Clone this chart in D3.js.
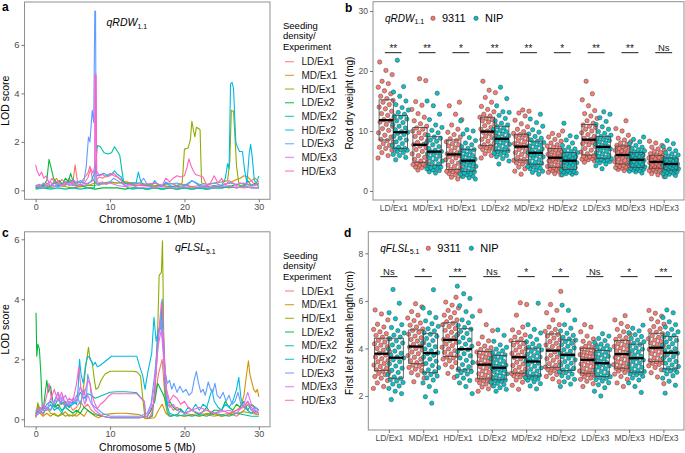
<!DOCTYPE html>
<html><head><meta charset="utf-8">
<script src="https://cdn.jsdelivr.net/npm/d3@7"></script>
<style>body{margin:0;background:#fff;} svg{font-family:"Liberation Sans",Arial,sans-serif;}</style>
</head><body><svg id="c" width="685" height="453"></svg>
<script>
// ---------- categories / ticks ----------
const groups = ["LD/Ex1","MD/Ex1","HD/Ex1","LD/Ex2","MD/Ex2","HD/Ex2","LD/Ex3","MD/Ex3","HD/Ex3"];
const lineColors = ["#F8766D","#D39200","#93AA00","#00BA38","#00C19F","#00B9E3","#619CFF","#DB72FB","#FF61C3"];
const genotypes = ["9311","NIP"];
const genoColors = ["#F8766D","#00BFC4"];
const chrTicks = [0,10,20,30];
const lodTicks = [0,2,4,6];
const rdwTicks = [0,10,20,30];
const flslTicks = [2,4,6,8];
const sigB = ["**","**","*","**","**","*","**","**","Ns"];
const sigD = ["Ns","*","**","Ns","*","*","Ns","*","**"];

// ---------- panel a: LOD on chromosome 1 (Mb, LOD) ----------
const chr1_LD_Ex1 = [[0,0.2],[0.5,0.25],[1,0.15],[1.5,0.3],[2,0.2],[2.5,0.35],[3,0.2],[3.5,0.45],[4,0.3],[4.5,0.5],[5,0.3],[5.3,1.05],[5.6,0.4],[6,0.3],[6.5,0.5],[7,0.7],[7.3,1.0],[7.6,0.5],[8,0.3],[8.5,0.55],[9,0.5],[9.5,0.6],[10,0.7],[10.5,0.6],[11,0.55],[11.5,0.45],[12,0.35],[13,0.3],[14,0.25],[15,0.2],[16,0.3],[17,0.2],[18,0.3],[19,0.2],[20,0.25],[21,0.15],[22,0.2],[23,0.15],[24,0.2],[25,0.15],[26,0.1],[27,0.15],[28,0.1],[29,0.15],[30,0.1]];
const chr1_MD_Ex1 = [[0,0.1],[1,0.2],[2,0.15],[2.8,0.5],[3.2,0.3],[4,0.2],[4.6,0.4],[5,0.2],[6,0.15],[7,0.2],[8,0.3],[9,0.25],[10,0.3],[11,0.3],[12,0.35],[13,0.3],[14,0.3],[15,0.25],[16,0.2],[17,0.2],[18,0.15],[19,0.15],[20,0.2],[21,0.15],[22,0.1],[23,0.1],[24,0.15],[25,0.2],[26,0.3],[27,0.45],[27.5,0.5],[28,0.6],[28.5,0.55],[29,0.4],[29.5,0.5],[30,0.35]];
const chr1_HD_Ex1 = [[0,0.1],[1,0.15],[2,0.1],[3,0.2],[4,0.15],[5,0.1],[6,0.15],[7,0.2],[8,0.2],[8.5,0.25],[9,0.3],[10,0.35],[11,0.3],[12,0.3],[13,0.25],[14,0.2],[15,0.2],[16,0.15],[17,0.2],[18,0.15],[19,0.2],[19.7,0.3],[20,1.7],[20.5,1.75],[20.8,2.1],[21.0,2.85],[21.2,2.5],[21.4,2.2],[21.6,2.6],[21.9,2.55],[22.1,2.5],[22.3,0.3],[23,0.25],[24,0.3],[25,0.35],[25.8,0.4],[26.1,1.2],[26.3,3.3],[26.6,3.25],[27.0,1.0],[27.3,0.3],[28,0.25],[29,0.2],[30,0.25]];
const chr1_LD_Ex2 = [[0,0.1],[0.5,0.15],[1,0.2],[1.5,0.4],[1.8,1.28],[2.1,0.9],[2.4,0.5],[2.8,0.3],[3.2,0.4],[3.6,0.25],[4.0,0.5],[4.4,0.35],[4.7,0.7],[5.0,0.4],[5.5,0.2],[6,0.25],[6.5,0.15],[7,0.1],[8,0.05],[9,0.1],[10,0.1],[11,0.1],[12,0.05],[13,0.1],[14,0.1],[15,0.05],[16,0.1],[17,0.05],[18,0.1],[19,0.05],[20,0.1],[21,0.05],[22,0.1],[23,0.05],[24,0.1],[25,0.1],[26,0.15],[27,0.25],[27.5,0.2],[28,0.15],[28.5,0.4],[29,0.2],[29.5,0.3],[30,0.15]];
const chr1_MD_Ex2 = [[0,0.05],[1,0.1],[2,0.05],[3,0.1],[4,0.05],[5,0.1],[6,0.05],[7,0.1],[7.9,0.1],[8.05,1.0],[8.3,1.85],[8.7,1.8],[9.2,1.55],[9.7,1.5],[10.2,1.55],[10.6,1.8],[11.0,1.6],[11.3,1.45],[11.6,0.8],[11.9,0.2],[12.5,0.1],[13,0.05],[14,0.1],[15,0.05],[16,0.1],[17,0.05],[18,0.1],[19,0.05],[20,0.1],[21,0.05],[22,0.1],[23,0.05],[24,0.1],[25,0.1],[26,0.15],[27,0.1],[28,0.2],[29,0.1],[30,0.1]];
const chr1_HD_Ex2 = [[0,0.2],[0.5,0.15],[1,0.25],[1.5,0.2],[2,0.15],[2.5,0.3],[3,0.2],[3.5,0.25],[4,0.35],[4.5,0.3],[5,0.45],[5.5,0.3],[6,0.4],[6.5,0.3],[7,0.25],[7.5,0.4],[8.0,0.8],[8.3,0.6],[8.7,0.65],[9.2,0.7],[9.7,0.6],[10.3,0.7],[10.6,0.8],[11,0.65],[11.5,0.55],[11.8,0.3],[12.5,0.25],[13,0.3],[13.5,0.3],[13.8,0.75],[14.1,0.4],[14.5,0.2],[15,0.25],[15.5,0.15],[16,0.4],[16.5,0.2],[17,0.15],[17.5,0.3],[18,0.2],[18.5,0.15],[19,0.2],[19.5,0.1],[20,0.2],[20.5,0.25],[21,0.4],[21.5,0.3],[22,0.2],[22.5,0.15],[23,0.2],[23.5,0.1],[24,0.2],[24.5,0.15],[25,0.2],[25.5,0.5],[25.8,1.1],[26.0,0.9],[26.2,4.4],[26.4,4.45],[26.6,4.2],[26.9,2.0],[27.1,1.8],[27.4,1.6],[27.8,1.6],[28.1,0.8],[28.4,0.3],[28.7,1.5],[28.9,1.9],[29.1,1.4],[29.4,0.4],[29.7,0.3],[30,0.6]];
const chr1_LD_Ex3 = [[0,0.15],[0.5,0.2],[1,0.1],[2,0.2],[3,0.15],[4,0.25],[5,0.2],[5.5,0.35],[6,0.3],[6.5,0.4],[6.8,1.0],[7.1,2.2],[7.3,2.0],[7.6,3.3],[7.8,2.8],[7.95,7.4],[8.05,7.4],[8.15,0.3],[8.5,0.2],[9,0.3],[9.5,0.25],[10,0.35],[10.5,0.5],[11,0.4],[11.5,0.3],[12,0.2],[13,0.25],[14,0.3],[14.5,0.5],[15,0.25],[16,0.3],[17,0.2],[17.5,0.35],[18,0.25],[19,0.3],[20,0.2],[21,0.4],[22,0.25],[23,0.2],[24,0.3],[25,0.2],[26,0.3],[27,0.25],[28,0.3],[29,0.2],[30,0.3]];
const chr1_MD_Ex3 = [[0,0.2],[0.5,0.1],[1,0.3],[1.5,0.2],[2,0.35],[2.5,0.15],[3,0.3],[3.5,0.2],[4,0.35],[4.5,0.2],[5,0.3],[5.5,0.15],[6,0.25],[6.5,0.2],[7,0.3],[7.5,0.35],[7.95,0.5],[8.0,4.7],[8.1,4.7],[8.2,0.4],[8.5,0.3],[9,0.35],[9.5,0.25],[10,0.3],[11,0.2],[12,0.15],[13,0.2],[14,0.1],[15,0.15],[16,0.1],[17,0.15],[18,0.1],[19,0.1],[20,0.15],[21,0.1],[22,0.15],[23,0.1],[24,0.1],[25,0.15],[26,0.2],[27,0.1],[28,0.15],[29,0.1],[30,0.1]];
const chr1_HD_Ex3 = [[0,1.05],[0.2,0.8],[0.5,0.6],[0.8,0.75],[1.1,0.5],[1.4,0.6],[1.8,0.3],[2.2,0.5],[2.6,0.3],[3.0,0.4],[3.5,0.2],[4,0.3],[4.5,0.25],[5,0.4],[5.5,0.3],[6,0.2],[6.5,0.3],[7,0.5],[7.4,0.9],[7.7,0.7],[7.95,1.0],[8.0,4.8],[8.1,4.8],[8.2,0.8],[8.6,0.6],[9,0.65],[9.5,0.55],[10,0.6],[10.5,0.7],[11,0.55],[11.5,0.4],[12,0.2],[12.5,0.25],[13,0.2],[14,0.2],[15,0.25],[16,0.3],[17,0.2],[17.5,0.5],[18,0.35],[18.5,0.5],[19,0.6],[19.5,0.55],[20,0.6],[20.3,0.9],[20.6,1.3],[20.9,1.0],[21.2,0.8],[21.5,0.65],[22,0.6],[22.5,0.55],[23,0.2],[23.5,0.3],[24,0.6],[24.5,0.3],[25,0.5],[25.5,0.2],[26,0.4],[26.5,0.3],[27,0.2],[27.5,0.3],[28,0.25],[28.5,0.3],[29,0.4],[29.5,0.2],[30,0.3]];

// ---------- panel c: LOD on chromosome 5 ----------
const chr5_LD_Ex1 = [[0,0.2],[0.5,0.3],[1,0.15],[1.5,0.4],[2,0.3],[2.5,0.5],[3,0.35],[3.5,0.6],[4,0.4],[4.5,0.5],[5,0.3],[5.5,0.4],[6,0.6],[6.5,0.4],[7,0.5],[7.5,0.3],[8,0.2],[9,0.1],[10,0.05],[11,0.05],[12,0.05],[13,0.05],[14,0.05],[15,0.1],[15.5,0.3],[16,0.6],[16.5,1.5],[17,2.0],[17.3,1.0],[17.6,0.4],[18,0.5],[18.5,0.3],[19,0.4],[19.5,0.3],[20,0.2],[21,0.15],[22,0.2],[23,0.15],[24,0.1],[25,0.15],[26,0.2],[27,0.1],[28,0.3],[28.5,0.5],[29,0.3],[29.5,0.2],[30,0.15]];
const chr5_MD_Ex1 = [[0,0.05],[0.3,0.5],[0.6,0.2],[1,0.1],[1.5,0.2],[2,0.1],[2.5,0.2],[3,0.1],[3.5,0.15],[4,0.25],[4.5,0.1],[5,0.15],[5.5,0.1],[6,0.2],[6.5,0.1],[7,0.3],[7.5,0.2],[8,0.1],[8.5,0.05],[9,0.15],[10,0.18],[11,0.2],[12,0.2],[13,0.18],[14,0.15],[14.6,0.05],[15,0.02],[16,0.05],[16.5,0.3],[17,0.5],[17.5,0.2],[18,0.1],[19,0.15],[20,0.1],[21,0.15],[22,0.1],[23,0.15],[24,0.2],[25,0.1],[26,0.15],[27,0.3],[27.5,0.4],[28,0.8],[28.3,1.4],[28.6,1.95],[28.8,1.5],[29,1.3],[29.3,1.0],[29.6,0.9],[29.8,1.0],[30,0.75]];
const chr5_HD_Ex1 = [[0,0.1],[0.3,0.55],[0.6,0.3],[1,0.2],[1.5,0.4],[2,0.2],[2.5,0.15],[3,0.1],[3.5,0.2],[4,0.1],[4.5,0.15],[5,0.1],[5.5,0.2],[6,0.4],[6.5,1.2],[6.8,1.9],[7.1,2.4],[7.3,2.0],[7.6,1.9],[7.9,1.3],[8.1,1.0],[8.4,1.05],[8.8,1.3],[9.3,1.5],[10,1.6],[11,1.6],[12,1.6],[13,1.6],[13.6,1.58],[14.1,1.45],[14.4,0.7],[14.7,0.02],[15.2,0.05],[15.7,0.1],[16.0,1.0],[16.3,2.0],[16.6,4.8],[16.9,4.9],[17.05,5.95],[17.2,3.0],[17.4,0.6],[17.7,0.2],[18,0.1],[19,0.15],[20,0.1],[21,0.15],[22,0.1],[23,0.2],[24,0.15],[25,0.1],[26,0.15],[27,0.2],[28,0.25],[29,0.2],[30,0.15]];
const chr5_LD_Ex2 = [[0.05,3.55],[0.15,2.1],[0.3,2.5],[0.5,2.35],[0.7,1.5],[0.9,0.3],[1.1,0.5],[1.3,0.9],[1.5,1.3],[1.7,0.9],[2.0,1.1],[2.3,0.6],[2.6,0.4],[3,0.5],[3.5,0.3],[4,0.4],[4.5,0.3],[5,0.2],[5.5,0.3],[6,0.2],[6.5,0.4],[7,0.3],[7.5,0.2],[8,0.15],[9,0.1],[10,0.05],[11,0.05],[12,0.05],[13,0.05],[14,0.05],[15,0.1],[15.5,0.3],[16,0.6],[16.4,1.2],[16.8,1.0],[17.2,0.8],[17.6,0.5],[18,0.6],[18.5,0.4],[19,0.3],[19.5,0.35],[20,0.2],[21,0.3],[22,0.15],[23,0.4],[23.5,0.2],[24,0.3],[25,0.3],[25.5,0.6],[26,0.4],[26.5,0.3],[27,0.5],[27.5,0.4],[28,0.6],[28.5,0.3],[29,0.5],[29.5,0.4],[30,0.3]];
const chr5_MD_Ex2 = [[0,0.2],[0.5,0.4],[1,0.3],[1.5,0.5],[2,0.6],[2.5,0.4],[3,0.7],[3.5,0.5],[4,0.6],[4.5,0.4],[5,0.5],[5.5,0.6],[6,0.9],[6.5,0.7],[7,0.85],[7.5,0.8],[8,0.7],[8.5,0.75],[9,0.8],[10,0.9],[11,0.92],[12,0.92],[13,0.9],[13.6,0.88],[14.2,0.7],[14.6,0.6],[14.8,0.1],[15.2,0.05],[15.6,0.1],[16,0.8],[16.3,2.5],[16.6,3.0],[16.9,3.5],[17.1,3.0],[17.3,1.5],[17.6,0.5],[18,0.2],[19,0.1],[20,0.15],[21,0.1],[22,0.15],[23,0.1],[24,0.2],[25,0.15],[26,0.1],[27,0.2],[28,0.15],[29,0.1],[30,0.1]];
const chr5_HD_Ex2 = [[0,0.3],[0.5,0.2],[1,0.4],[1.5,0.3],[2,0.5],[2.5,0.3],[3,0.4],[3.5,0.2],[4,0.5],[4.5,0.4],[5,0.6],[5.5,0.5],[5.7,1.0],[5.9,2.0],[6.1,1.5],[6.4,1.2],[6.7,1.8],[7.0,2.1],[7.3,2.05],[7.7,1.8],[8.0,1.9],[8.3,1.75],[8.7,1.8],[9.2,1.9],[9.7,2.0],[10.2,2.1],[11,2.1],[12,2.1],[13,2.1],[13.6,2.1],[14.0,1.75],[14.4,1.45],[14.7,1.0],[15.1,1.6],[15.6,2.2],[15.9,3.4],[16.2,2.6],[16.5,3.0],[16.8,3.0],[17.0,4.0],[17.2,2.6],[17.5,1.2],[17.8,0.2],[18.2,0.1],[19,0.15],[19.5,0.3],[20,0.2],[20.5,0.4],[21,0.3],[21.5,0.5],[22,0.3],[22.5,0.5],[23,0.4],[23.7,1.0],[24,0.6],[24.5,0.4],[25,0.3],[25.5,0.5],[26,0.4],[26.5,0.6],[27,1.0],[27.3,1.4],[27.6,0.7],[28,0.4],[28.5,0.3],[29,0.2],[29.5,0.3],[30,0.2]];
const chr5_LD_Ex3 = [[0,0.1],[0.5,0.3],[1,0.2],[1.5,0.4],[2,0.3],[2.5,0.6],[3,0.9],[3.3,0.5],[3.6,0.8],[4,0.4],[4.5,0.6],[5,0.5],[5.5,0.8],[6,0.5],[6.5,1.0],[6.8,0.6],[7,1.5],[7.3,1.2],[7.6,0.5],[8,0.4],[8.5,0.3],[9,0.2],[10,0.1],[11,0.1],[12,0.1],[13,0.1],[14,0.1],[15,0.2],[15.5,0.5],[16,1.5],[16.4,2.5],[16.8,3.4],[17.1,2.5],[17.4,1.6],[17.7,1.2],[18,1.3],[18.3,1.0],[18.6,1.2],[19,0.9],[19.4,1.1],[19.8,0.9],[20.2,1.0],[20.6,0.8],[21,0.9],[21.3,1.3],[21.6,1.6],[21.9,1.2],[22.2,0.9],[22.5,1.0],[22.8,0.8],[23.2,1.25],[23.5,1.0],[23.8,0.9],[24.1,1.2],[24.4,0.8],[24.8,0.7],[25.2,0.9],[25.6,0.6],[26,0.8],[26.4,0.5],[26.8,0.6],[27.2,0.9],[27.6,0.5],[28,0.4],[28.5,0.6],[29,0.3],[29.5,0.4],[30,0.3]];
const chr5_MD_Ex3 = [[0,0.1],[0.5,0.2],[1,0.5],[1.5,0.3],[2,0.7],[2.5,0.5],[3,0.9],[3.5,0.6],[4,0.8],[4.5,0.5],[5,0.7],[5.5,0.6],[6,1.1],[6.3,0.8],[6.6,0.5],[7,0.8],[7.5,0.5],[8,0.3],[8.5,0.2],[9,0.1],[10,0.05],[11,0.05],[12,0.05],[13,0.05],[14,0.05],[15,0.1],[15.5,0.4],[16,1.2],[16.5,2.5],[16.9,3.0],[17.2,2.0],[17.5,1.0],[18,0.4],[18.5,0.5],[19,0.3],[20,0.2],[21,0.3],[22,0.2],[23,0.3],[24,0.2],[25,0.25],[26,0.3],[27,0.2],[28,0.5],[28.5,0.9],[29,0.5],[29.5,0.3],[30,0.2]];
const chr5_HD_Ex3 = [[0,0.2],[0.5,0.4],[1,0.3],[1.5,0.8],[1.8,1.2],[2.1,0.7],[2.5,1.0],[3,0.6],[3.5,0.9],[4,0.5],[4.5,0.7],[5,0.6],[5.5,1.2],[5.8,1.75],[6.1,1.0],[6.5,0.8],[7,1.3],[7.3,1.2],[7.6,0.8],[8.0,0.5],[8.3,0.35],[8.7,0.5],[9.2,0.6],[9.7,0.75],[10.2,0.85],[11,0.85],[12,0.85],[13,0.85],[13.6,0.85],[14.2,0.7],[14.6,0.6],[14.8,0.1],[15.2,0.05],[15.6,0.2],[16,0.8],[16.3,2.0],[16.6,3.0],[16.9,3.92],[17.1,3.5],[17.3,2.0],[17.6,1.0],[18,0.6],[18.5,0.8],[19,0.7],[19.5,0.5],[20,0.6],[20.5,0.4],[21,0.3],[22,0.4],[23,0.3],[24,0.2],[25,0.3],[26,0.2],[27,0.3],[28,0.4],[28.5,0.6],[29,0.4],[29.5,0.2],[30,0.3]];

// ---------- panel b: root dry weight (mg), box stats [Q1, median, Q3] ----------
const rdwStats9311 = [[8.5,11.8,15.2],[4.8,7.7,10.6],[3.6,6.1,8.5],[7.55,9.9,12.3],[5.15,7.4,9.45],[3.95,5.55,7.1],[6.0,8.55,11.1],[4.5,6.0,7.5],[3.8,4.85,5.95]];
const rdwStatsNIP  = [[7.1,9.8,12.6],[4.3,6.55,9.05],[3.3,5.05,6.95],[6.7,8.7,10.8],[4.45,6.35,8.3],[3.6,5.05,6.4],[5.45,7.35,9.1],[3.95,5.2,6.4],[3.5,4.5,5.5]];
const rdw9311 = [
[5.5,5.9,6.4,6.8,7.1,7.3,7.6,7.9,8.1,8.4,8.6,9.0,9.3,9.7,10.1,10.4,10.8,11.1,11.5,11.7,11.9,12.2,12.6,12.9,13.3,13.7,14.0,14.4,14.8,15.1,15.4,15.8,16.2,16.7,17.3,17.9,18.3,19.4,20.1,21.5],
[3.5,3.7,3.9,4.0,4.2,4.3,4.4,4.5,4.6,4.8,5.0,5.3,5.6,5.9,6.2,6.6,6.9,7.2,7.5,7.7,7.8,8.1,8.4,8.8,9.1,9.4,9.7,10.0,10.3,10.5,10.8,11.2,11.7,12.3,12.9,13.6,14.3,14.9,18.4,18.7],
[2.0,2.3,2.5,2.7,2.9,3.0,3.2,3.3,3.4,3.6,3.8,4.1,4.3,4.6,4.9,5.2,5.5,5.7,5.9,6.1,6.2,6.4,6.7,6.9,7.2,7.5,7.7,7.9,8.2,8.4,8.7,9.0,9.4,9.8,10.3,11.0,11.9,12.8,14.2,14.8],
[5.5,5.9,6.2,6.5,6.7,6.9,7.1,7.2,7.4,7.5,7.7,8.0,8.3,8.6,8.9,9.1,9.4,9.6,9.8,9.9,10.0,10.3,10.6,10.9,11.2,11.5,11.7,11.9,12.1,12.3,12.5,12.8,13.2,13.6,14.1,14.8,15.6,16.4,16.8,18.3],
[2.8,3.3,3.7,4.0,4.3,4.5,4.7,4.9,5.0,5.1,5.3,5.6,5.9,6.1,6.4,6.6,6.9,7.1,7.3,7.4,7.5,7.7,7.9,8.2,8.4,8.6,8.9,9.1,9.3,9.4,9.6,9.9,10.3,10.7,11.2,11.8,12.5,13.0,13.3,13.5],
[2.7,2.9,3.1,3.3,3.4,3.5,3.6,3.7,3.8,3.9,4.1,4.3,4.5,4.7,4.9,5.0,5.2,5.3,5.4,5.5,5.6,5.8,5.9,6.1,6.3,6.5,6.6,6.8,6.9,7.1,7.3,7.5,7.7,8.0,8.3,8.6,9.0,9.3,9.6,10.0],
[4.8,5.0,5.2,5.3,5.4,5.5,5.6,5.7,5.8,5.9,6.2,6.5,6.8,7.1,7.4,7.7,7.9,8.1,8.3,8.5,8.6,8.8,9.1,9.4,9.7,10.0,10.3,10.6,10.8,11.0,11.3,11.7,12.1,12.5,12.9,13.4,14.2,15.2,16.2,18.3],
[3.4,3.6,3.7,3.8,3.9,4.0,4.1,4.2,4.3,4.4,4.6,4.8,4.9,5.1,5.3,5.4,5.6,5.7,5.9,6.0,6.1,6.2,6.4,6.5,6.7,6.8,7.0,7.1,7.3,7.4,7.6,7.8,8.0,8.2,8.5,8.8,9.3,10.0,10.4,11.7],
[2.4,2.7,2.9,3.1,3.3,3.4,3.5,3.6,3.7,3.8,3.9,4.0,4.1,4.2,4.3,4.4,4.5,4.6,4.7,4.8,4.9,5.0,5.1,5.2,5.3,5.4,5.5,5.6,5.8,5.9,6.0,6.2,6.4,6.6,6.8,7.0,7.3,7.6,8.0,8.3]];
const rdwNIP = [
[5.2,5.6,5.9,6.1,6.4,6.6,6.8,6.9,7.0,7.1,7.3,7.6,7.9,8.2,8.5,8.8,9.1,9.4,9.6,9.8,9.9,10.2,10.5,10.8,11.1,11.4,11.7,12.0,12.3,12.5,12.8,13.1,13.5,13.9,14.4,15.0,15.8,16.5,17.4,21.8],
[3.0,3.2,3.4,3.5,3.7,3.8,3.9,4.0,4.1,4.3,4.5,4.8,5.0,5.3,5.5,5.8,6.0,6.2,6.4,6.5,6.6,6.8,7.1,7.4,7.7,8.0,8.3,8.5,8.8,9.0,9.3,9.7,10.1,10.6,11.0,11.9,12.8,14.2,15.0,16.3],
[2.0,2.2,2.4,2.5,2.7,2.8,2.9,3.0,3.2,3.3,3.5,3.7,3.9,4.1,4.3,4.5,4.6,4.8,4.9,5.0,5.1,5.3,5.5,5.7,5.9,6.1,6.3,6.5,6.7,6.9,7.1,7.4,7.7,8.0,8.4,8.9,9.5,10.0,10.2,11.7],
[4.5,5.0,5.4,5.7,5.9,6.1,6.3,6.4,6.6,6.7,6.9,7.1,7.3,7.6,7.8,8.0,8.2,8.4,8.6,8.7,8.8,9.0,9.2,9.5,9.7,9.9,10.1,10.3,10.5,10.7,11.0,11.3,11.7,12.1,12.6,13.1,13.2,14.2,15.4,17.3],
[2.8,3.1,3.3,3.5,3.7,3.8,4.0,4.1,4.3,4.4,4.6,4.8,5.0,5.2,5.5,5.7,5.9,6.0,6.2,6.3,6.4,6.6,6.8,7.0,7.3,7.5,7.7,7.9,8.1,8.3,8.5,8.8,9.1,9.5,9.8,10.2,10.8,11.4,12.0,12.8],
[2.7,2.8,2.9,3.0,3.1,3.2,3.3,3.4,3.5,3.6,3.7,3.9,4.1,4.2,4.4,4.6,4.7,4.8,4.9,5.0,5.1,5.2,5.4,5.5,5.7,5.8,6.0,6.1,6.2,6.4,6.6,6.8,7.0,7.3,7.6,8.0,8.5,9.0,9.2,11.3],
[3.7,4.2,4.5,4.7,4.9,5.0,5.1,5.2,5.3,5.4,5.6,5.8,6.0,6.2,6.4,6.6,6.8,7.0,7.2,7.3,7.4,7.6,7.8,8.0,8.2,8.4,8.6,8.8,8.9,9.1,9.3,9.6,9.9,10.3,10.7,11.1,11.6,12.2,12.8,13.2],
[3.0,3.2,3.3,3.4,3.5,3.6,3.7,3.8,3.9,3.9,4.0,4.2,4.3,4.5,4.6,4.7,4.8,4.9,5.1,5.2,5.3,5.4,5.5,5.7,5.8,5.9,6.0,6.1,6.3,6.4,6.5,6.7,6.9,7.1,7.3,7.6,7.9,8.2,8.6,9.0],
[2.4,2.6,2.8,2.9,3.0,3.1,3.2,3.3,3.4,3.5,3.6,3.7,3.8,3.9,4.0,4.1,4.2,4.3,4.4,4.5,4.5,4.6,4.7,4.8,4.9,5.0,5.1,5.2,5.3,5.4,5.6,5.8,6.0,6.2,6.4,6.7,7.0,7.4,7.9,8.4]];

// ---------- panel d: first leaf sheath length (cm) ----------
const flslStats9311 = [[3.07,3.78,4.43],[3.36,4.08,4.78],[3.66,4.36,5.08],[2.72,3.32,3.87],[2.96,3.63,4.29],[3.19,3.91,4.61],[2.96,3.52,4.01],[3.17,3.76,4.33],[3.45,4.03,4.64]];
const flslStatsNIP  = [[2.75,3.61,4.43],[2.98,3.8,4.62],[3.1,3.97,4.83],[2.68,3.19,3.7],[2.84,3.45,4.01],[3.07,3.73,4.36],[2.82,3.38,3.91],[3.0,3.59,4.18],[3.14,3.82,4.5]];
const flsl9311 = [
[2.32,2.4,2.55,2.65,2.75,2.82,2.9,2.95,3.0,3.05,3.1,3.17,3.24,3.3,3.37,3.44,3.5,3.57,3.64,3.72,3.8,3.86,3.93,4.0,4.07,4.14,4.2,4.27,4.34,4.41,4.47,4.55,4.62,4.7,4.8,4.9,5.02,5.2,5.45,5.62],
[2.6,2.75,2.88,2.98,3.06,3.13,3.2,3.25,3.3,3.34,3.4,3.48,3.55,3.63,3.7,3.78,3.85,3.93,4.0,4.06,4.1,4.17,4.24,4.31,4.38,4.45,4.52,4.6,4.68,4.76,4.82,4.9,4.98,5.07,5.17,5.28,5.4,5.55,5.75,5.88],
[2.78,2.95,3.1,3.22,3.32,3.4,3.48,3.55,3.6,3.64,3.7,3.77,3.84,3.91,3.98,4.05,4.12,4.19,4.26,4.33,4.38,4.45,4.52,4.6,4.68,4.76,4.84,4.92,5.0,5.06,5.12,5.2,5.3,5.4,5.5,5.6,5.7,5.82,5.95,6.15],
[2.2,2.3,2.38,2.45,2.5,2.55,2.6,2.64,2.68,2.71,2.75,2.81,2.87,2.93,2.99,3.05,3.11,3.17,3.23,3.3,3.34,3.4,3.46,3.52,3.58,3.63,3.69,3.74,3.8,3.85,3.9,3.96,4.03,4.1,4.2,4.32,4.48,4.75,5.0,5.58],
[2.28,2.45,2.58,2.67,2.74,2.8,2.85,2.89,2.92,2.95,3.0,3.07,3.14,3.21,3.28,3.35,3.42,3.49,3.56,3.62,3.66,3.72,3.79,3.86,3.93,4.0,4.07,4.14,4.21,4.27,4.33,4.4,4.48,4.57,4.67,4.78,4.9,5.4,5.85,5.92],
[2.6,2.72,2.82,2.9,2.97,3.02,3.07,3.11,3.15,3.18,3.22,3.29,3.36,3.43,3.5,3.57,3.64,3.71,3.78,3.85,3.94,4.01,4.08,4.15,4.22,4.29,4.37,4.44,4.52,4.59,4.64,4.72,4.8,4.9,5.0,5.2,5.5,5.6,5.85,6.4],
[2.4,2.52,2.62,2.7,2.76,2.81,2.86,2.9,2.93,2.95,2.99,3.05,3.1,3.16,3.22,3.28,3.34,3.4,3.46,3.51,3.54,3.59,3.64,3.69,3.74,3.79,3.84,3.89,3.94,3.99,4.04,4.09,4.15,4.22,4.3,4.4,4.52,4.7,4.9,5.0],
[2.4,2.55,2.7,2.82,2.92,2.99,3.05,3.1,3.13,3.16,3.2,3.26,3.32,3.38,3.44,3.5,3.56,3.62,3.68,3.74,3.78,3.84,3.9,3.96,4.02,4.08,4.14,4.2,4.26,4.32,4.38,4.45,4.52,4.6,4.7,4.8,4.92,5.05,5.2,5.38],
[2.52,2.8,2.98,3.1,3.2,3.27,3.33,3.38,3.41,3.44,3.48,3.54,3.6,3.66,3.72,3.78,3.84,3.9,3.96,4.01,4.05,4.11,4.17,4.23,4.29,4.35,4.41,4.47,4.54,4.62,4.68,4.75,4.83,4.92,5.02,5.12,5.24,5.36,5.48,5.6]];
const flslNIP = [
[1.85,2.1,2.2,2.32,2.42,2.5,2.57,2.63,2.69,2.74,2.8,2.9,2.99,3.08,3.17,3.26,3.35,3.44,3.52,3.6,3.64,3.72,3.8,3.89,3.98,4.06,4.15,4.23,4.32,4.41,4.48,4.56,4.65,4.75,4.88,5.0,5.25,5.5,5.9,6.48],
[1.7,1.97,2.2,2.4,2.55,2.67,2.76,2.84,2.9,2.96,3.02,3.1,3.19,3.28,3.37,3.46,3.55,3.63,3.71,3.78,3.82,3.9,3.98,4.07,4.15,4.24,4.33,4.42,4.51,4.6,4.66,4.74,4.83,4.93,5.04,5.16,5.3,5.5,5.7,6.47],
[2.1,2.4,2.55,2.65,2.75,2.84,2.92,2.98,3.03,3.08,3.14,3.23,3.32,3.41,3.5,3.6,3.69,3.78,3.87,3.95,4.0,4.09,4.18,4.27,4.36,4.45,4.54,4.63,4.72,4.81,4.88,4.97,5.08,5.2,5.35,5.55,5.8,6.1,6.3,6.62],
[2.2,2.28,2.35,2.42,2.48,2.53,2.58,2.62,2.65,2.67,2.71,2.76,2.82,2.87,2.93,2.98,3.03,3.08,3.13,3.18,3.2,3.25,3.3,3.35,3.41,3.46,3.52,3.57,3.63,3.68,3.73,3.78,3.84,3.9,3.97,4.05,4.15,4.3,4.55,4.78],
[2.3,2.42,2.52,2.6,2.66,2.71,2.75,2.78,2.81,2.83,2.87,2.93,2.99,3.05,3.12,3.18,3.25,3.31,3.38,3.44,3.47,3.53,3.58,3.64,3.7,3.76,3.82,3.88,3.94,4.0,4.05,4.12,4.2,4.28,4.38,4.5,4.65,4.8,5.0,5.9],
[2.4,2.5,2.6,2.7,2.78,2.85,2.92,2.98,3.02,3.06,3.1,3.17,3.24,3.31,3.38,3.45,3.52,3.59,3.65,3.71,3.75,3.81,3.88,3.95,4.02,4.09,4.16,4.22,4.29,4.35,4.4,4.47,4.55,4.64,4.74,4.85,5.0,5.2,5.6,5.82],
[2.0,2.2,2.35,2.47,2.56,2.63,2.69,2.74,2.78,2.81,2.85,2.91,2.97,3.03,3.09,3.15,3.21,3.27,3.32,3.37,3.4,3.45,3.5,3.56,3.62,3.67,3.73,3.78,3.84,3.9,3.95,4.0,4.06,4.12,4.18,4.25,4.33,4.42,4.52,4.62],
[2.15,2.4,2.55,2.67,2.76,2.83,2.89,2.93,2.96,2.99,3.03,3.09,3.15,3.21,3.27,3.33,3.39,3.45,3.51,3.57,3.61,3.67,3.73,3.79,3.85,3.91,3.97,4.03,4.1,4.17,4.22,4.28,4.35,4.42,4.5,4.58,4.66,4.74,4.85,4.98],
[2.12,2.45,2.62,2.75,2.85,2.93,3.0,3.05,3.09,3.12,3.17,3.24,3.31,3.38,3.45,3.52,3.59,3.66,3.73,3.8,3.85,3.92,3.99,4.06,4.13,4.2,4.27,4.34,4.41,4.48,4.55,4.62,4.7,4.8,4.9,5.0,5.12,5.3,5.5,5.62]];

// ================= drawing =================
const svg = d3.select("#c");
const TXT = "#4d4d4d", BORDER = "#8f8f8f";
const intFmt = d3.format("d");

function styleAxis(g, fs){
  g.select(".domain").remove();
  g.selectAll(".tick line").attr("stroke","#555").attr("stroke-width",0.8);
  g.selectAll(".tick text").attr("fill",TXT).style("font-size",fs+"px").style("font-family","Liberation Sans, Arial, sans-serif");
}

function panelLabel(t,x,y){
  svg.append("text").attr("x",x).attr("y",y).text(t).style("font-weight","bold").style("font-size","12px").attr("fill","#000");
}

function linePanel(c){
  const x = d3.scaleLinear().domain([-1.5,31.5]).range([c.left,c.right]);
  const y = d3.scaleLinear().domain(c.ydom).range([c.bottom,c.top]);
  const g = svg.append("g");
  const clipId = "clip"+c.id;
  g.append("clipPath").attr("id",clipId).append("rect").attr("x",c.left).attr("y",c.top).attr("width",c.right-c.left).attr("height",c.bottom-c.top);
  const line = d3.line().x(d=>x(d[0])).y(d=>y(d[1]));
  const lg = g.append("g").attr("clip-path",`url(#${clipId})`);
  c.series.forEach((s,i)=>{
    lg.append("path").datum(s).attr("d",line).attr("fill","none").attr("stroke",lineColors[i]).attr("stroke-width",1.1).attr("stroke-linejoin","round");
  });
  g.append("rect").attr("x",c.left).attr("y",c.top).attr("width",c.right-c.left).attr("height",c.bottom-c.top).attr("fill","none").attr("stroke",BORDER).attr("stroke-width",1);
  const ax = g.append("g").attr("transform",`translate(0,${c.bottom})`).call(d3.axisBottom(x).tickValues(chrTicks).tickFormat(intFmt).tickSize(3).tickPadding(1));
  styleAxis(ax,9);
  const ay = g.append("g").attr("transform",`translate(${c.left},0)`).call(d3.axisLeft(y).tickValues(lodTicks).tickFormat(intFmt).tickSize(3).tickPadding(2));
  styleAxis(ay,9.5);
  g.append("text").attr("x",(c.left+c.right)/2).attr("y",c.xTitleY).attr("text-anchor","middle").style("font-size","10.5px").attr("fill","#000").text(c.xTitle);
  g.append("text").attr("transform",`translate(${c.yTitleX},${(c.top+c.bottom)/2}) rotate(-90)`).attr("text-anchor","middle").style("font-size","10.5px").attr("fill","#000").text("LOD score");
  const q = g.append("text").attr("x",c.qx).attr("y",c.qy).style("font-size","10.5px").style("font-style","italic").attr("fill","#000");
  q.append("tspan").text(c.qtl);
  q.append("tspan").attr("dy",2.5).style("font-size","7px").style("font-style","normal").text(c.sub);
  const L = svg.append("g");
  ["Seeding","density/","Experiment"].forEach((t,i)=>{
    L.append("text").attr("x",c.legX).attr("y",c.legTitleY+i*10.6).attr("dominant-baseline","central").style("font-size","9.5px").attr("fill","#000").text(t);
  });
  groups.forEach((gname,i)=>{
    const yy = c.legY0 + i*13.67;
    L.append("line").attr("x1",c.legX+2).attr("x2",c.legX+11).attr("y1",yy).attr("y2",yy).attr("stroke",lineColors[i]).attr("stroke-width",1.3).attr("opacity",0.75);
    L.append("text").attr("x",c.legX+18.5).attr("y",yy).attr("dominant-baseline","central").style("font-size","10px").attr("fill","#1a1a1a").text(gname);
  });
}

function frac(v){ return v - Math.floor(v); }

function boxPanel(c){
  const xp = d3.scalePoint().domain(groups).range([c.left,c.right]).padding(0.6);
  const step = xp.step();
  const bw = step*0.42;
  const y = d3.scaleLinear().domain(c.ydom).range([c.bottom,c.top]);
  const g = svg.append("g");
  g.append("rect").attr("x",c.left).attr("y",c.top).attr("width",c.right-c.left).attr("height",c.bottom-c.top).attr("fill","none").attr("stroke",BORDER).attr("stroke-width",1);
  const sets = [[c.pts9311,c.stats9311,-1],[c.ptsNIP,c.statsNIP,1]];
  sets.forEach((set,k)=>{
    set[0].forEach((arr,gi)=>{
      const cx = xp(groups[gi]) + set[2]*bw/2;
      g.append("g").selectAll("circle").data(arr).join("circle")
        .attr("cx",(d,i)=> cx + (frac(i*0.618034 + gi*0.37 + k*0.21) - 0.5)*bw*1.15)
        .attr("cy",d=>y(d)).attr("r",2.2)
        .attr("fill",genoColors[k]).attr("stroke","#3a3a3a").attr("stroke-width",0.45).attr("fill-opacity",0.95);
    });
  });
  sets.forEach((set,k)=>{
    set[1].forEach((s,gi)=>{
      const cx = xp(groups[gi]) + set[2]*bw/2;
      g.append("rect").attr("x",cx-bw/2).attr("y",y(s[2])).attr("width",bw).attr("height",y(s[0])-y(s[2]))
        .attr("fill","none").attr("stroke","#444").attr("stroke-width",0.8);
      g.append("line").attr("x1",cx-bw/2).attr("x2",cx+bw/2).attr("y1",y(s[1])).attr("y2",y(s[1])).attr("stroke","#000").attr("stroke-width",2.3);
    });
  });
  c.sig.forEach((t,gi)=>{
    const cx = xp(groups[gi]);
    g.append("line").attr("x1",cx-step*0.25).attr("x2",cx+step*0.25).attr("y1",y(c.sigY)).attr("y2",y(c.sigY)).attr("stroke","#000").attr("stroke-width",0.9);
    g.append("text").attr("x",cx).attr("y",y(c.sigY)-(t==="Ns"?2:0.5)).attr("text-anchor","middle").style("font-size",t==="Ns"?"9.5px":"10px").attr("fill","#1a1a1a").text(t);
  });
  const ax = g.append("g").attr("transform",`translate(0,${c.bottom})`).call(d3.axisBottom(xp).tickSize(3).tickPadding(2));
  styleAxis(ax,8.5);
  const ay = g.append("g").attr("transform",`translate(${c.left},0)`).call(d3.axisLeft(y).tickValues(c.yTicks).tickFormat(intFmt).tickSize(3).tickPadding(2));
  styleAxis(ay,8.5);
  g.append("text").attr("transform",`translate(${c.yTitleX},${c.yTitleY}) rotate(-90)`).attr("text-anchor","middle").style("font-size","10px").attr("fill","#000").text(c.yTitle);
  const q = g.append("text").attr("x",c.left+12).attr("y",c.legY).attr("dominant-baseline","central").style("font-size","10px").style("font-style","italic").attr("fill","#000");
  q.append("tspan").text(c.qtl);
  q.append("tspan").attr("dy",2.5).style("font-size","7px").style("font-style","normal").text(c.sub);
  genotypes.forEach((gn,k)=>{
    const lx = c.left + 60 + k*43;
    g.append("circle").attr("cx",lx).attr("cy",c.legY).attr("r",2.2).attr("fill",genoColors[k]).attr("stroke","#3a3a3a").attr("stroke-width",0.45);
    g.append("text").attr("x",lx+9).attr("y",c.legY).attr("dominant-baseline","central").style("font-size","11px").attr("fill","#000").text(gn);
  });
}

linePanel({id:"a",left:24.5,right:270,top:2,bottom:199.3,ydom:[-0.37,7.77],
  series:[chr1_LD_Ex1,chr1_MD_Ex1,chr1_HD_Ex1,chr1_LD_Ex2,chr1_MD_Ex2,chr1_HD_Ex2,chr1_LD_Ex3,chr1_MD_Ex3,chr1_HD_Ex3],
  xTitle:"Chromosome 1 (Mb)",xTitleY:222.5,yTitleX:9,qtl:"qRDW",sub:"1.1",qx:106.5,qy:26,
  legX:283,legTitleY:25,legY0:61.7});
linePanel({id:"c",left:24.5,right:270,top:231.8,bottom:426.8,ydom:[-0.25,6.25],
  series:[chr5_LD_Ex1,chr5_MD_Ex1,chr5_HD_Ex1,chr5_LD_Ex2,chr5_MD_Ex2,chr5_HD_Ex2,chr5_LD_Ex3,chr5_MD_Ex3,chr5_HD_Ex3],
  xTitle:"Chromosome 5 (Mb)",xTitleY:450.5,yTitleX:9,qtl:"qFLSL",sub:"5.1",qx:175,qy:251,
  legX:283,legTitleY:255,legY0:291});
boxPanel({left:373,right:684,top:1.7,bottom:200,ydom:[-1.5,31.55],yTicks:rdwTicks,
  pts9311:rdw9311,ptsNIP:rdwNIP,stats9311:rdwStats9311,statsNIP:rdwStatsNIP,sig:sigB,sigY:23.05,
  yTitle:"Root dry weight (mg)",yTitleX:352.5,yTitleY:103,qtl:"qRDW",sub:"1.1",legY:18.3});
boxPanel({left:368.3,right:684,top:231.7,bottom:430,ydom:[0.57,8.91],yTicks:flslTicks,
  pts9311:flsl9311,ptsNIP:flslNIP,stats9311:flslStats9311,statsNIP:flslStatsNIP,sig:sigD,sigY:7.02,
  yTitle:"First leaf sheath length (cm)",yTitleX:352.5,yTitleY:333,qtl:"qFLSL",sub:"5.1",legY:248.3});

panelLabel("a",2,11); panelLabel("b",345,12); panelLabel("c",2,237); panelLabel("d",344,237);
</script></body></html>
